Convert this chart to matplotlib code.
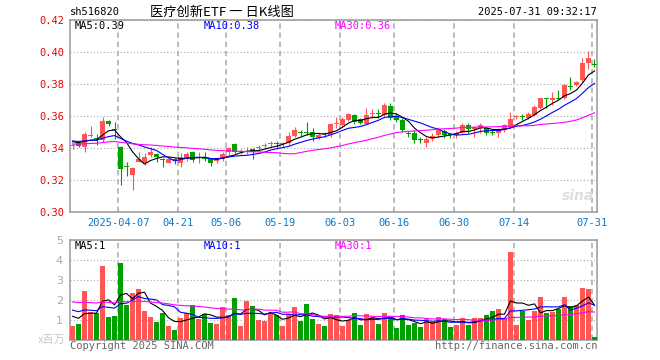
import matplotlib
matplotlib.use("Agg")
import matplotlib.pyplot as plt
import pandas as pd

# daily candles 2025-03-25 .. 2025-07-31, 88 sessions
opens = [0.3410, 0.3429, 0.3408, 0.3478, 0.3460, 0.3450, 0.3567, 0.3517, 0.3404, 0.3285,
         0.3231, 0.3315, 0.3308, 0.3356, 0.3363, 0.3327, 0.3308, 0.3330, 0.3308, 0.3329,
         0.3377, 0.3338, 0.3337, 0.3329, 0.3317, 0.3329, 0.3377, 0.3425, 0.3375, 0.3377,
         0.3394, 0.3402, 0.3415, 0.3427, 0.3427, 0.3427, 0.3429, 0.3477, 0.3498, 0.3500,
         0.3498, 0.3460, 0.3490, 0.3481, 0.3548, 0.3544, 0.3575, 0.3606, 0.3579, 0.3550,
         0.3615, 0.3615, 0.3606, 0.3663, 0.3600, 0.3575, 0.3494, 0.3496, 0.3452, 0.3433,
         0.3454, 0.3481, 0.3508, 0.3483, 0.3481, 0.3496, 0.3544, 0.3517, 0.3523, 0.3523,
         0.3498, 0.3492, 0.3513, 0.3533, 0.3594, 0.3598, 0.3590, 0.3606, 0.3648, 0.3708,
         0.3700, 0.3712, 0.3710, 0.3785, 0.3794, 0.3825, 0.3929, 0.3921]
highs = [0.3430, 0.3440, 0.3500, 0.3538, 0.3490, 0.3596, 0.3575, 0.3560, 0.3410, 0.3315,
         0.3283, 0.3377, 0.3367, 0.3404, 0.3367, 0.3335, 0.3342, 0.3340, 0.3367, 0.3377,
         0.3383, 0.3377, 0.3375, 0.3335, 0.3346, 0.3377, 0.3408, 0.3433, 0.3392, 0.3404,
         0.3398, 0.3419, 0.3433, 0.3446, 0.3446, 0.3440, 0.3502, 0.3529, 0.3513, 0.3565,
         0.3523, 0.3492, 0.3502, 0.3558, 0.3596, 0.3592, 0.3621, 0.3613, 0.3585, 0.3648,
         0.3642, 0.3642, 0.3679, 0.3679, 0.3617, 0.3585, 0.3508, 0.3513, 0.3467, 0.3467,
         0.3492, 0.3529, 0.3517, 0.3496, 0.3508, 0.3554, 0.3554, 0.3538, 0.3554, 0.3533,
         0.3513, 0.3523, 0.3548, 0.3627, 0.3606, 0.3610, 0.3627, 0.3669, 0.3715, 0.3710,
         0.3748, 0.3763, 0.3798, 0.3846, 0.3819, 0.3960, 0.4006, 0.3956]
lows = [0.3392, 0.3404, 0.3378, 0.3471, 0.3419, 0.3440, 0.3540, 0.3454, 0.3169, 0.3225,
        0.3138, 0.3310, 0.3294, 0.3342, 0.3315, 0.3283, 0.3304, 0.3300, 0.3279, 0.3321,
        0.3315, 0.3308, 0.3321, 0.3288, 0.3308, 0.3321, 0.3356, 0.3367, 0.3363, 0.3363,
        0.3329, 0.3383, 0.3398, 0.3408, 0.3392, 0.3408, 0.3419, 0.3471, 0.3475, 0.3481,
        0.3446, 0.3454, 0.3467, 0.3471, 0.3523, 0.3529, 0.3569, 0.3550, 0.3548, 0.3550,
        0.3585, 0.3585, 0.3600, 0.3575, 0.3565, 0.3502, 0.3471, 0.3429, 0.3433, 0.3408,
        0.3446, 0.3471, 0.3460, 0.3460, 0.3460, 0.3492, 0.3492, 0.3471, 0.3492, 0.3481,
        0.3481, 0.3471, 0.3498, 0.3527, 0.3581, 0.3575, 0.3581, 0.3602, 0.3644, 0.3648,
        0.3669, 0.3700, 0.3706, 0.3763, 0.3790, 0.3815, 0.3894, 0.3908]
closes = [0.3420, 0.3413, 0.3485, 0.3482, 0.3455, 0.3567, 0.3548, 0.3513, 0.3267, 0.3281,
          0.3273, 0.3331, 0.3346, 0.3377, 0.3346, 0.3323, 0.3329, 0.3322, 0.3346, 0.3363,
          0.3325, 0.3342, 0.3333, 0.3308, 0.3335, 0.3363, 0.3398, 0.3377, 0.3379, 0.3381,
          0.3377, 0.3406, 0.3419, 0.3431, 0.3423, 0.3431, 0.3475, 0.3513, 0.3494, 0.3496,
          0.3471, 0.3481, 0.3486, 0.3550, 0.3552, 0.3581, 0.3610, 0.3565, 0.3554, 0.3606,
          0.3619, 0.3611, 0.3667, 0.3590, 0.3577, 0.3513, 0.3490, 0.3450, 0.3448, 0.3454,
          0.3475, 0.3517, 0.3481, 0.3479, 0.3496, 0.3544, 0.3517, 0.3529, 0.3544, 0.3496,
          0.3494, 0.3513, 0.3544, 0.3581, 0.3598, 0.3594, 0.3610, 0.3658, 0.3710, 0.3704,
          0.3715, 0.3708, 0.3794, 0.3781, 0.3815, 0.3929, 0.3965, 0.3917]
# volume, millions of shares
volumes = [0.72, 0.80, 2.47, 1.40, 1.33, 3.70, 1.15, 1.20, 3.85, 1.75,
           2.35, 2.55, 1.45, 1.15, 0.90, 1.35, 0.72, 0.52, 1.10, 1.33,
           1.75, 1.05, 1.30, 0.85, 0.80, 1.65, 1.25, 2.10, 0.68, 1.95,
           1.70, 1.00, 0.95, 1.30, 1.25, 0.68, 1.30, 1.65, 0.95, 1.80,
           1.05, 0.78, 0.68, 1.30, 1.25, 0.72, 1.00, 1.33, 0.75, 1.30,
           1.17, 0.80, 1.33, 1.17, 0.60, 1.25, 0.75, 0.83, 0.65, 1.05,
           0.90, 1.13, 1.03, 0.65, 0.75, 1.10, 0.75, 1.10, 1.10, 1.25,
           1.45, 1.55, 1.10, 4.40, 0.75, 1.43, 1.00, 1.45, 2.15, 1.33,
           1.40, 1.55, 2.15, 1.70, 1.75, 2.60, 2.53, 0.15]

tick_idx = [8, 18, 26, 35, 45, 54, 64, 74, 87]
tick_labels = ["2025-04-07", "04-21", "05-06", "05-19", "06-03",
               "06-16", "06-30", "07-14", "07-31"]

# level of each MA where it enters the chart (earlier sessions not shown)
price_ma_start = {5: 0.3444, 10: 0.3447, 30: 0.3425}
vol_ma_start = {5: 1.30, 10: 1.58, 30: 1.95}

RED = "#ff5555"
GREEN = "#00a000"
MA_COLORS = {5: "black", 10: "#0000ff", 30: "#ff00ff"}
MONO = "DejaVu Sans Mono"
W, H = 660, 360


def moving_avg(values, n, start):
    s = pd.Series([start] * (n - 1) + list(values))
    return s.rolling(n).mean().iloc[n - 1:].to_numpy()


def px(x, y):
    return x / W, 1 - y / H


def style_panel(ax):
    for sp in ax.spines.values():
        sp.set_color("#999999")
        sp.set_linewidth(1.1)
    ax.set_xlim(-0.4167, 87.4167)
    ax.set_xticks([i - 0.4 for i in tick_idx])
    ax.grid(axis="x", color="#aaaaaa", lw=1.1, ls=(0, (3.5, 2.5)))
    ax.grid(axis="y", color="#aaaaaa", lw=0.8, ls=(0, (1, 2)))
    ax.set_axisbelow(True)
    ax.tick_params(length=0)


fig = plt.figure(figsize=(6.6, 3.6), dpi=100)
ax = fig.add_axes([70 / W, 148 / H, 527 / W, 192 / H])
axv = fig.add_axes([70 / W, 20 / H, 527 / W, 100 / H])

x = list(range(len(closes)))
up = [c >= o for o, c in zip(opens, closes)]
cols = [RED if u else GREEN for u in up]

# candles
ax.vlines(x, lows, highs, colors=cols, lw=0.8, zorder=3)
bottoms = [min(o, c) for o, c in zip(opens, closes)]
heights = [max(abs(c - o), 0.0006) for o, c in zip(opens, closes)]
ax.bar(x, heights, bottom=bottoms, width=0.8, color=cols, zorder=3)

for n in (5, 10, 30):
    ax.plot(x, moving_avg(closes, n, price_ma_start[n]), color=MA_COLORS[n], lw=0.8, zorder=4)

style_panel(ax)
ax.set_ylim(0.30, 0.42)
ax.set_yticks([0.30, 0.32, 0.34, 0.36, 0.38, 0.40, 0.42])
ax.set_yticklabels(["%.2f" % v for v in ax.get_yticks()], color="#ee0000",
                   family=MONO, fontsize=7.5)
ax.tick_params(axis="y", pad=4)
ax.set_xticklabels(tick_labels, color="#0b78c8", family=MONO, fontsize=7.5)
ax.tick_params(axis="x", pad=4)

# volume
axv.bar(x, volumes, width=0.8, color=cols, zorder=3)
for n in (5, 10, 30):
    axv.plot(x, moving_avg(volumes, n, vol_ma_start[n]), color=MA_COLORS[n], lw=0.8, zorder=4)
style_panel(axv)
axv.set_ylim(0, 5)
axv.set_yticks([0, 1, 2, 3, 4, 5])
axv.set_yticklabels(["", "1", "2", "3", "4", "5"], color="#aaaaaa", fontsize=8)
axv.tick_params(axis="y", pad=5)
axv.set_xticklabels([])

# MA legends
ma_x = {5: 75, 10: 204, 30: 335}
for n in (5, 10, 30):
    pv = moving_avg(closes, n, price_ma_start[n])[-1]
    vv = moving_avg(volumes, n, vol_ma_start[n])[-1]
    fig.text(*px(ma_x[n], 26), "MA%d:%.2f" % (n, pv), color=MA_COLORS[n],
             family=MONO, fontsize=7.5, va="center")
    fig.text(*px(ma_x[n], 246), "MA%d:%d" % (n, int(vv)), color=MA_COLORS[n],
             family=MONO, fontsize=7.5, va="center")

# header / footer
fig.text(*px(70, 12), "sh516820", family=MONO, fontsize=7.5, va="center")
fig.text(*px(222, 12), "医疗创新ETF 一 日K线图", family=["Noto Sans CJK SC", "DejaVu Sans"],
         fontsize=9.5, ha="center", va="center")
fig.text(*px(597, 12), "2025-07-31 09:32:17", family=MONO, fontsize=7.5,
         ha="right", va="center")
fig.text(*px(66, 340), "x百万", family=["Noto Sans CJK SC", "DejaVu Sans"],
         fontsize=8, color="#c8c8c8", ha="right", va="center")
fig.text(*px(70, 346), "Copyright 2025 SINA.COM", family=MONO, fontsize=7.5,
         color="#666666", va="center")
fig.text(*px(597, 346), "http://finance.sina.com.cn", family=MONO, fontsize=7.5,
         color="#666666", ha="right", va="center")
fig.text(*px(594, 196), "sina", fontsize=10, style="italic", weight="bold",
         color="#dddddd", ha="right", va="center")

fig.savefig("out.png", dpi=100)
